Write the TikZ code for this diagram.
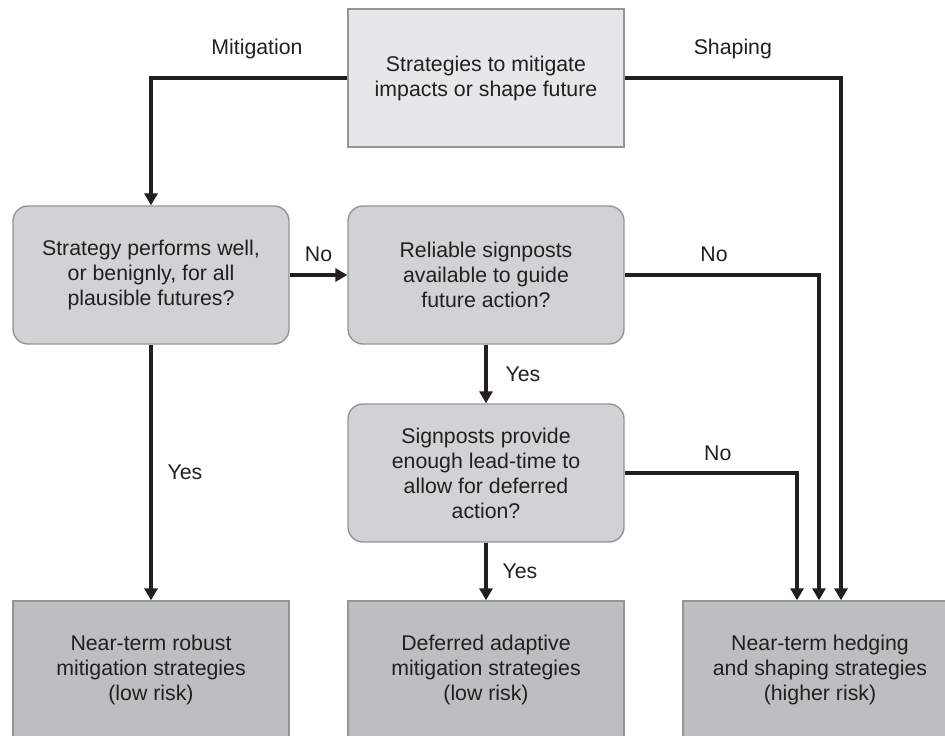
\documentclass[tikz,border=0pt]{standalone}
\usepackage{fontspec}
\setmainfont{Liberation Sans}
\usetikzlibrary{arrows.meta}
\definecolor{ink}{HTML}{231F20}
\definecolor{topfill}{HTML}{E6E7E8}
\definecolor{qfill}{HTML}{D1D2D4}
\definecolor{rfill}{HTML}{BCBEC0}
\definecolor{edge}{HTML}{939598}
\tikzset{
  box/.style={draw=edge, line width=1.4pt, minimum width=276pt, minimum height=138pt,
    align=center, text=ink, inner sep=0pt, font=\fontsize{21.3}{25}\selectfont},
  topbox/.style={box, fill=topfill},
  qbox/.style={box, fill=qfill, rounded corners=15pt},
  rbox/.style={box, fill=rfill},
  arr/.style={draw=ink, line width=3.4pt, -{Triangle[width=13pt,length=12pt]}},
  lbl/.style={text=ink, inner sep=0pt, font=\fontsize{21.3}{25}\selectfont}
}
\begin{document}
\begin{tikzpicture}[x=1pt,y=-1pt]
\useasboundingbox (0,0) rectangle (945,736);
\node[topbox] (top) at (486,78) {Strategies to mitigate\\impacts or shape future};
\node[qbox] (q1) at (151,275) {Strategy performs well,\\or benignly, for all\\plausible futures?};
\node[qbox] (q2) at (486,275) {Reliable signposts\\available to guide\\future action?};
\node[qbox] (q3) at (486,473) {Signposts provide\\enough lead-time to\\allow for deferred\\action?};
\node[rbox] (r1) at (151,670) {Near-term robust\\mitigation strategies\\(low risk)};
\node[rbox] (r2) at (486,670) {Deferred adaptive\\mitigation strategies\\(low risk)};
\node[rbox, minimum width=274pt] (r3) at (820,670) {Near-term hedging\\and shaping strategies\\(higher risk)};

\draw[arr] (top.west) -| node[lbl, pos=.23, yshift=29pt] (lmit) {Mitigation} (q1.north);
\draw[arr] (top.east) -| node[lbl, pos=.25, yshift=29pt] (lsha) {Shaping} ([xshift=21pt]r3.north);
\draw[arr] (q1.east) -- node[lbl, yshift=21pt] (lno1) {No} (q2.west);
\draw[arr] (q2.east) -| node[lbl, pos=.23, yshift=21pt] (lno2) {No} ([xshift=-1pt]r3.north);
\draw[arr] (q3.east) -| node[lbl, pos=.27, yshift=20pt] (lno3) {No} ([xshift=-23pt]r3.north);
\draw[arr] (q1.south) -- node[lbl, xshift=34pt] (lyes1) {Yes} (r1.north);
\draw[arr] (q2.south) -- node[lbl, xshift=37pt] (lyes2) {Yes} (q3.north);
\draw[arr] (q3.south) -- node[lbl, xshift=34pt] (lyes3) {Yes} (r2.north);
\end{tikzpicture}
\end{document}
